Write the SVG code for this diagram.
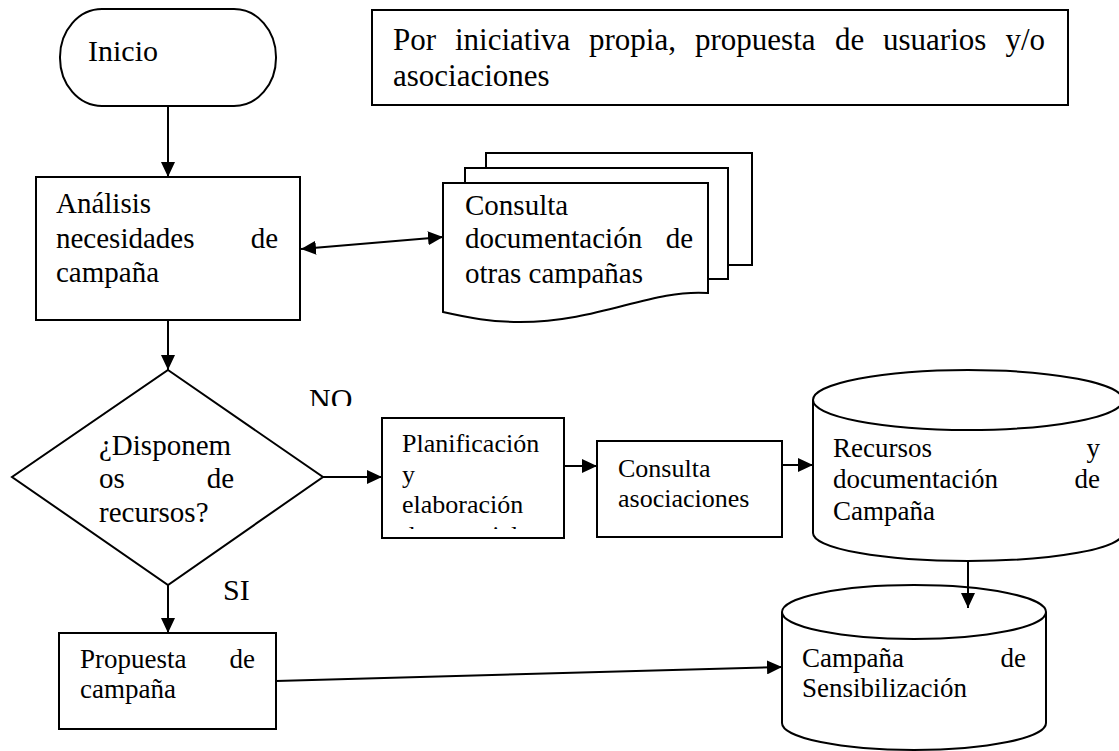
<svg xmlns="http://www.w3.org/2000/svg" width="1119" height="751" viewBox="0 0 1119 751">
<style>
.s{fill:#fff;stroke:#000;stroke-width:2}
.t{font-family:"Liberation Serif","Times New Roman",serif;fill:#000}
.c{stroke:#000;stroke-width:2;fill:none}
</style>
<defs>
<marker id="ah" markerUnits="userSpaceOnUse" markerWidth="16" markerHeight="14" refX="15" refY="7" orient="auto-start-reverse">
<path d="M0,0 L15,7 L0,14 z" fill="#000"/>
</marker>
<clipPath id="clipNO"><rect x="300" y="370" width="80" height="36"/></clipPath>
<clipPath id="clipPlan"><rect x="383" y="419" width="180" height="110"/></clipPath>
<clipPath id="clipDoc"><rect x="444" y="184" width="263" height="104"/></clipPath>
</defs>
<rect width="1119" height="751" fill="#fff"/>

<g id="inicio">
<rect class="s" x="60" y="9" width="216" height="97" rx="42" ry="48"/>
<text class="t" x="88" y="61" font-size="30">Inicio</text>
</g>

<g id="nota">
<rect class="s" x="372" y="10" width="696" height="95"/>
<g class="t" font-size="31">
<text x="393" y="50">Por</text>
<text x="455" y="50">iniciativa</text>
<text x="589" y="50">propia,</text>
<text x="695" y="50">propuesta</text>
<text x="835" y="50">de</text>
<text x="883" y="50">usuarios</text>
<text x="1045" y="50" text-anchor="end">y/o</text>
<text x="393" y="86">asociaciones</text>
</g>
</g>

<g id="analisis">
<rect class="s" x="36" y="177" width="264" height="143"/>
<g class="t" font-size="29">
<text x="56" y="213">Análisis</text>
<text x="56" y="248">necesidades</text>
<text x="278" y="248" text-anchor="end">de</text>
<text x="56" y="282">campaña</text>
</g>
</g>

<g id="documentos">
<rect class="s" x="486" y="153" width="266" height="112"/>
<rect class="s" x="465" y="168" width="263" height="111"/>
<path class="s" d="M443,183 H708 V293 C650,289 600,322 520,322 C490,322 470,318 443,312 Z"/>
<g class="t" font-size="29" clip-path="url(#clipDoc)">
<text x="465" y="215">Consulta</text>
<text x="465" y="248">documentación</text>
<text x="693" y="248" text-anchor="end">de</text>
<text x="465" y="283">otras campañas</text>
</g>
</g>

<g id="decision">
<polygon class="s" points="168,370 323,477 168,585 12,477"/>
<g class="t" font-size="29">
<text x="99" y="455">¿Disponem</text>
<text x="99" y="488">os</text>
<text x="234" y="488" text-anchor="end">de</text>
<text x="99" y="522">recursos?</text>
</g>
</g>

<g id="etiquetas">
<text class="t" x="309" y="409" font-size="30" clip-path="url(#clipNO)">NO</text>
<text class="t" x="223" y="600" font-size="30">SI</text>
</g>

<g id="planificacion">
<rect class="s" x="382" y="418" width="182" height="120"/>
<g class="t" font-size="26" clip-path="url(#clipPlan)">
<text x="402" y="452">Planificación</text>
<text x="402" y="483">y</text>
<text x="402" y="513">elaboración</text>
<text x="402" y="544">de material</text>
</g>
</g>

<g id="consulta-asociaciones">
<rect class="s" x="597" y="441" width="185" height="96"/>
<g class="t" font-size="26">
<text x="618" y="477">Consulta</text>
<text x="618" y="507">asociaciones</text>
</g>
</g>

<g id="recursos">
<path class="s" d="M813,400 A155,30 0 0 1 1123,400 V533 A155,28 0 0 1 813,533 Z"/>
<path class="c" d="M813,400 A155,30 0 0 0 1123,400"/>
<g class="t" font-size="27">
<text x="833" y="457">Recursos</text>
<text x="1100" y="457" text-anchor="end">y</text>
<text x="833" y="488">documentación</text>
<text x="1100" y="488" text-anchor="end">de</text>
<text x="833" y="520">Campaña</text>
</g>
</g>

<g id="campana">
<path class="s" d="M782,612 A132,27 0 0 1 1046,612 V723 A132,27 0 0 1 782,723 Z"/>
<path class="c" d="M782,612 A132,27 0 0 0 1046,612"/>
<g class="t" font-size="27">
<text x="802" y="667">Campaña</text>
<text x="1026" y="667" text-anchor="end">de</text>
<text x="802" y="697">Sensibilización</text>
</g>
</g>

<g id="propuesta">
<rect class="s" x="59" y="633" width="217" height="96"/>
<g class="t" font-size="27">
<text x="80" y="668">Propuesta</text>
<text x="255" y="668" text-anchor="end">de</text>
<text x="80" y="698">campaña</text>
</g>
</g>

<g id="conectores" class="c">
<line x1="168" y1="106" x2="168" y2="177" marker-end="url(#ah)"/>
<line x1="301" y1="249" x2="443" y2="237" marker-start="url(#ah)" marker-end="url(#ah)"/>
<line x1="168" y1="320" x2="168" y2="370" marker-end="url(#ah)"/>
<line x1="323" y1="477" x2="382" y2="477" marker-end="url(#ah)"/>
<line x1="168" y1="585" x2="168" y2="633" marker-end="url(#ah)"/>
<line x1="564" y1="466" x2="597" y2="466" marker-end="url(#ah)"/>
<line x1="782" y1="465" x2="813" y2="465" marker-end="url(#ah)"/>
<line x1="968" y1="561" x2="968" y2="608" marker-end="url(#ah)"/>
<line x1="276" y1="681" x2="782" y2="667" marker-end="url(#ah)"/>
</g>
</svg>
